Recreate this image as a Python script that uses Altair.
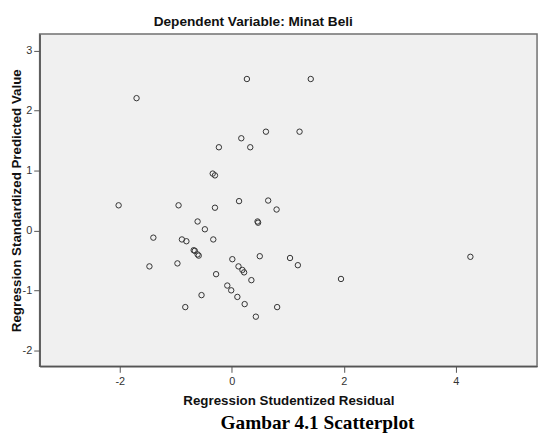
import altair as alt
import pandas as pd

# Regression Studentized Residual (x) and Regression Standardized Predicted Value (y)
resid = [-1.70, 0.27, 1.41, 0.61, 1.21, 0.17, -0.23, 0.33, -0.34, -0.30,
         -2.02, -0.95, -0.30, 0.13, 0.65, 0.80, -0.61, 0.46, 0.47, -0.48,
         -1.40, -1.47, -0.89, -0.81, -0.33, -0.68, -0.66, -0.59, -0.61, -0.97,
         0.01, 0.50, 1.04, 1.18, 0.12, 0.19, 0.22, 1.95, 4.26, -0.28,
         0.35, -0.08, -0.01, 0.10, 0.23, -0.54, -0.83, 0.81, 0.43]
pred = [2.21, 2.53, 2.53, 1.65, 1.65, 1.54, 1.39, 1.39, 0.95, 0.92,
        0.42, 0.42, 0.38, 0.49, 0.50, 0.35, 0.15, 0.15, 0.13, 0.02,
        -0.12, -0.60, -0.15, -0.18, -0.15, -0.33, -0.34, -0.42, -0.40, -0.55,
        -0.48, -0.43, -0.46, -0.58, -0.60, -0.66, -0.70, -0.81, -0.44, -0.73,
        -0.83, -0.92, -1.00, -1.11, -1.23, -1.08, -1.28, -1.28, -1.44]

x_ticks = [-2, 0, 2, 4]
y_ticks = [-2, -1, 0, 1, 2, 3]
x_domain = [-3.43, 5.45]
y_domain = [-2.27, 3.28]

title_text = "Dependent Variable: Minat Beli"
caption_text = "Gambar 4.1 Scatterplot"

df = pd.DataFrame({"resid": resid, "pred": pred})

W, H = 503, 336
sans = "Liberation Sans"

points = alt.Chart(df).mark_point(
    shape="circle", filled=False, size=30, strokeWidth=1, color="#333333", opacity=1
).encode(
    x=alt.X("resid:Q",
            scale=alt.Scale(domain=x_domain, nice=False, zero=False),
            axis=alt.Axis(values=x_ticks, title="Regression Studentized Residual",
                          grid=False, tickSize=6, labelPadding=3,
                          labelExpr="'' + datum.value",
                          titleY=35, titleBaseline="middle")),
    y=alt.Y("pred:Q",
            scale=alt.Scale(domain=y_domain, nice=False, zero=False),
            axis=alt.Axis(values=y_ticks, title="Regression Standardized Predicted Value",
                          grid=False, tickSize=6, labelPadding=2,
                          labelExpr="'' + datum.value",
                          titleX=-23, titleY=H / 2, titleAngle=270,
                          titleAlign="center", titleBaseline="middle")),
)

title_mark = alt.Chart(pd.DataFrame({"t": [title_text]})).mark_text(
    font=sans, fontSize=13.8, fontWeight="bold", color="#111111",
    align="center", baseline="middle"
).encode(text="t:N", x=alt.value(216), y=alt.value(-12))

caption_mark = alt.Chart(pd.DataFrame({"t": [caption_text]})).mark_text(
    font="Liberation Serif", fontSize=19.5, fontWeight="bold", color="#000000",
    align="center", baseline="middle"
).encode(text="t:N", x=alt.value(281), y=alt.value(393))

chart = alt.layer(points, title_mark, caption_mark).properties(
    width=W, height=H,
    autosize=alt.AutoSizeParams(type="none"),
    padding={"left": 32, "top": 24, "right": 4, "bottom": 66},
    background="white",
).configure_view(
    fill="#F0F0F0", stroke="#707070", strokeWidth=1.5
).configure_axis(
    labelFont=sans, labelFontSize=11, labelColor="#333333",
    titleFont=sans, titleFontSize=13.5, titleFontWeight="bold", titleColor="#111111",
    domainColor="#555555", domainWidth=1.5, tickColor="#555555", tickWidth=1,
)

chart.save("out.html", embed_options={"renderer": "svg", "actions": False})
